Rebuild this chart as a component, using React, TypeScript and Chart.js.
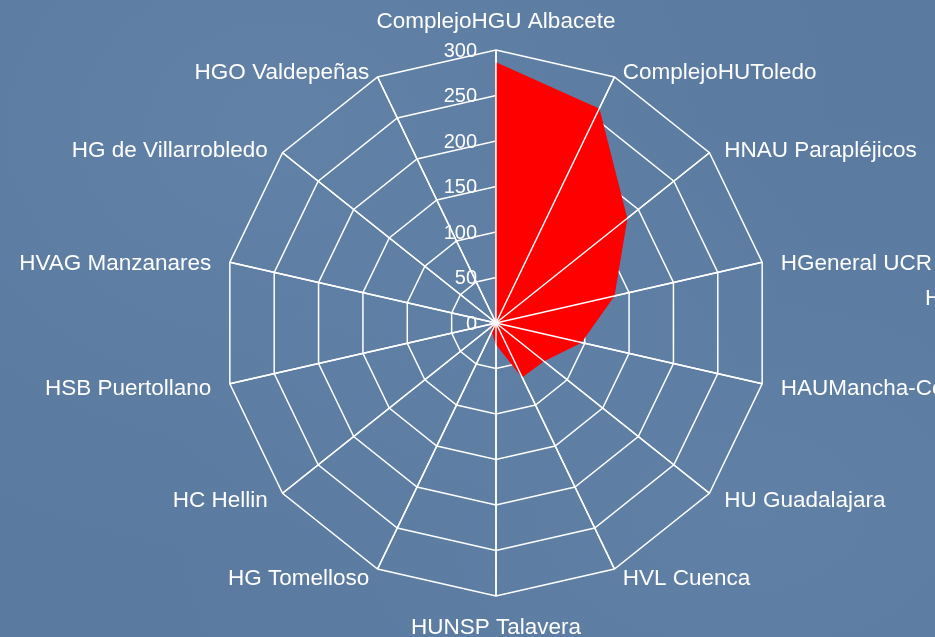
import React, { useEffect, useRef } from "react";
import { Chart, registerables } from "chart.js";

Chart.register(...registerables);

const categories = [
  "ComplejoHGU Albacete",
  "ComplejoHUToledo",
  "HNAU Parapléjicos",
  "HGeneral UCR",
  "HAUMancha-Centro",
  "HU Guadalajara",
  "HVL Cuenca",
  "HUNSP Talavera",
  "HG Tomelloso",
  "HC Hellin",
  "HSB Puertollano",
  "HVAG Manzanares",
  "HG de Villarrobledo",
  "HGO Valdepeñas",
];
const values = [286, 261, 184, 133, 96, 67, 66, 23, 10, 5, 1, 0, 0, 0];
const tickValues = [0, 50, 100, 150, 200, 250, 300];
const extraText = "H";

const FONT = "'Liberation Sans', Arial, Helvetica, sans-serif";

const overlay = {
  id: "overlay",
  afterDatasetsDraw(chart: any) {
    const s = chart.scales.r;
    const ctx = chart.ctx as CanvasRenderingContext2D;
    const cx = s.xCenter;
    const cy = s.yCenter;
    const r = s.drawingArea;
    ctx.save();
    // spokes over the filled area
    ctx.strokeStyle = "#ffffff";
    ctx.lineWidth = 1.5;
    for (let i = 0; i < categories.length; i++) {
      const p = s.getPointPosition(i, r);
      ctx.beginPath();
      ctx.moveTo(cx, cy);
      ctx.lineTo(p.x, p.y);
      ctx.stroke();
    }
    // tick labels
    ctx.fillStyle = "#ffffff";
    ctx.font = `20px ${FONT}`;
    ctx.textAlign = "right";
    ctx.textBaseline = "middle";
    tickValues.forEach((v) => {
      const d = s.getDistanceFromCenterForValue(v);
      ctx.fillText(String(v), cx - 19, cy - d + 1);
    });
    // point labels
    ctx.font = `22.5px ${FONT}`;
    categories.forEach((c, i) => {
      const a = s.getIndexAngle(i);
      const sn = Math.sin(a);
      const cs = Math.cos(a);
      let x: number, y: number;
      if (Math.abs(sn) < 0.05) {
        x = cx;
        y = cy - (r + 30) * cs + 2;
        ctx.textAlign = "center";
      } else {
        x = cx + (r + 19) * sn;
        y = cy - (r + 8) * cs + 3;
        ctx.textAlign = sn > 0 ? "left" : "right";
      }
      ctx.textBaseline = "middle";
      ctx.fillText(c, x, y);
    });
    ctx.textAlign = "left";
    ctx.fillText(extraText, cx + r + 156, cy - 24);
    ctx.restore();
  },
};

export default function App() {
  const ref = useRef<HTMLCanvasElement>(null);
  useEffect(() => {
    if (!ref.current) return;
    const chart = new Chart(ref.current, {
      type: "radar",
      data: {
        labels: categories,
        datasets: [
          {
            data: values,
            backgroundColor: "#ff0000",
            borderColor: "#ff0000",
            borderWidth: 1,
            pointRadius: 0,
            fill: true,
            tension: 0,
          },
        ],
      },
      options: {
        responsive: false,
        animation: false,
        devicePixelRatio: 1,
        layout: { padding: { left: 223, right: 166, top: 50, bottom: 41 } },
        plugins: { legend: { display: false }, tooltip: { enabled: false } },
        scales: {
          r: {
            min: 0,
            max: 300,
            ticks: { display: false, stepSize: 50 },
            grid: { color: "#ffffff", lineWidth: 1.5 },
            angleLines: { color: "#ffffff", lineWidth: 1.5 },
            pointLabels: { display: false },
          },
        },
      },
      plugins: [overlay],
    });
    return () => chart.destroy();
  }, []);
  return (
    <div
      style={{
        position: "fixed",
        left: 0,
        top: 0,
        width: 935,
        height: 637,
        overflow: "hidden",
        background:
          "radial-gradient(ellipse at 30% 20%, rgba(120,150,185,0.25), rgba(0,0,0,0) 60%), radial-gradient(ellipse at 80% 80%, rgba(120,150,185,0.2), rgba(0,0,0,0) 55%), #5a7aa0",
      }}
    >
      <canvas ref={ref} width={935} height={637} style={{ display: "block" }} />
    </div>
  );
}
